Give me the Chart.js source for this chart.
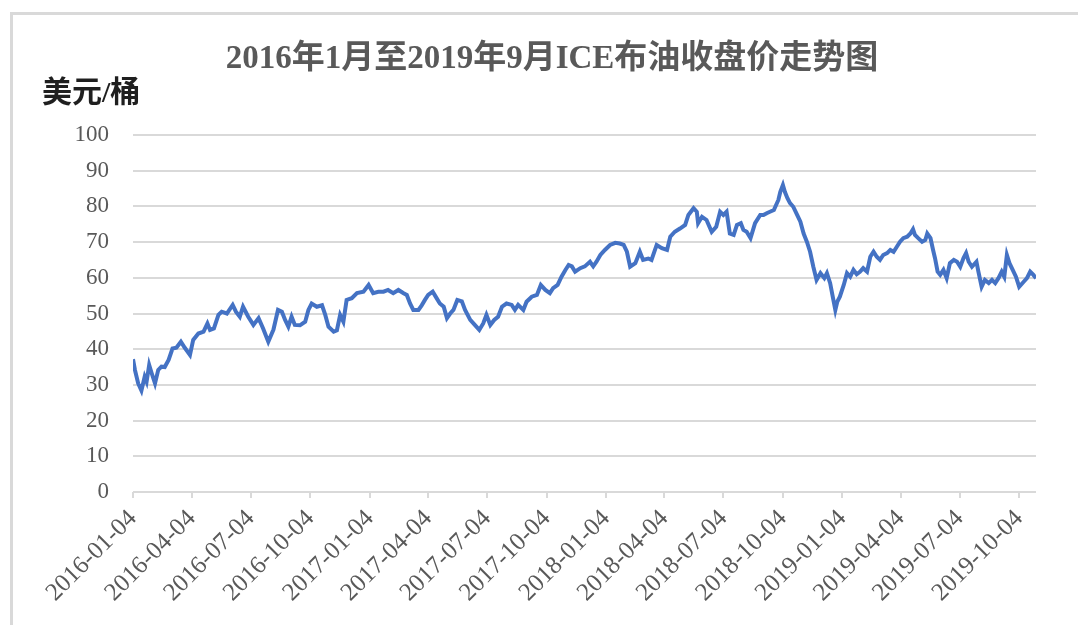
<!DOCTYPE html>
<html lang="zh">
<head>
  <meta charset="UTF-8">
  <title>ICE布油收盘价走势图</title>
  <script src="https://cdn.jsdelivr.net/npm/chart.js"></script>
  <style>
    html, body { margin: 0; padding: 0; background: #fff; }
    .frame {
      position: absolute; left: 10px; top: 12px; width: 1200px; height: 800px;
      border-left: 3px solid #d9d9d9; border-top: 3px solid #d9d9d9;
    }
    .chart-box { position: absolute; left: 0; top: 0; width: 1078px; height: 625px; }
  </style>
</head>
<body>
<div class="frame"></div>
<div class="chart-box"><canvas id="oilChart"></canvas></div>
<script>
// 数据：以 2016-01-04 为起点的天数，对应的收盘价（美元/桶）
const startDate = '2016-01-04';
const dayOffsets = [
  0, 3, 8, 13, 18, 21, 25, 29, 34, 39, 44, 49, 55, 61, 67, 74, 80, 88, 93, 101,
  109, 115, 119, 125, 132, 137, 145, 154, 159, 165, 170, 178, 186, 194, 201, 209, 217, 224, 230, 235,
  240, 245, 250, 258, 266, 271, 276, 284, 292, 297, 302, 310, 315, 320, 325, 330, 338, 346, 356, 364,
  371, 379, 387, 394, 402, 410, 418, 423, 428, 433, 441, 446, 451, 456, 463, 469, 474, 480, 485, 490,
  495, 501, 508, 513, 521, 528, 535, 541, 546, 552, 558, 564, 570, 577, 585, 590, 595, 603, 608, 616,
  624, 630, 637, 644, 649, 656, 662, 668, 673, 678, 683, 691, 698, 706, 711, 716, 722, 729, 737, 745,
  752, 758, 763, 768, 776, 783, 788, 796, 801, 809, 817, 825, 830, 837, 845, 853, 858, 866, 871, 873,
  879, 886, 894, 901, 907, 912, 917, 922, 928, 933, 939, 943, 948, 954, 961, 969, 974, 979, 984, 990,
  997, 1000, 1004, 1007, 1011, 1015, 1020, 1026, 1031, 1036, 1041, 1046, 1051, 1056, 1062, 1068, 1072, 1077, 1081, 1085,
  1088, 1092, 1098, 1103, 1108, 1113, 1118, 1123, 1128, 1134, 1139, 1144, 1149, 1154, 1159, 1165, 1170, 1175, 1180, 1185,
  1190, 1196, 1201, 1205, 1208, 1213, 1219, 1224, 1227, 1232, 1236, 1239, 1243, 1247, 1252, 1257, 1262, 1268, 1273, 1278,
  1283, 1287, 1291, 1296, 1303, 1306, 1311, 1316, 1322, 1327, 1332, 1337, 1342, 1346, 1350, 1354, 1359, 1364, 1369, 1376,
  1381, 1386, 1391, 1395
];
const prices = [
  37.2, 34.2, 30.4, 28.4, 32.3, 30.9, 35.6, 33.2, 30.4, 34.2, 35.1, 35.0, 37.0, 40.2, 40.4, 42.1, 40.4, 38.4, 42.6, 44.4,
  44.9, 47.2, 45.4, 45.8, 49.6, 50.5, 50.0, 52.4, 50.5, 49.1, 51.9, 49.1, 46.8, 48.7, 45.8, 42.1, 45.5, 51.0, 50.5, 48.2,
  46.3, 49.1, 46.8, 46.7, 47.7, 51.0, 52.8, 51.9, 52.3, 49.6, 46.3, 44.9, 45.3, 49.6, 47.7, 53.8, 54.3, 55.7, 56.1, 58.0,
  55.7, 56.1, 56.1, 56.6, 55.7, 56.6, 55.7, 55.2, 52.8, 51.0, 51.0, 52.3, 53.8, 55.2, 56.1, 54.3, 52.8, 51.9, 48.7, 50.0,
  51.0, 53.8, 53.4, 51.0, 48.2, 46.8, 45.4, 47.2, 49.6, 46.8, 48.2, 49.1, 51.9, 52.8, 52.4, 51.0, 52.4, 51.0, 53.3, 54.7,
  55.2, 58.0, 56.6, 55.7, 57.1, 58.0, 60.3, 62.2, 63.6, 63.2, 61.7, 62.7, 63.2, 64.5, 63.2, 64.5, 66.4, 67.8, 69.2, 69.8,
  69.6, 69.2, 67.3, 63.1, 64.1, 67.3, 65.0, 65.4, 65.0, 69.2, 68.3, 67.8, 71.5, 72.9, 73.8, 74.8, 77.6, 79.5, 78.5, 75.3,
  77.1, 76.2, 72.9, 74.3, 78.5, 77.6, 78.5, 72.4, 72.0, 74.8, 75.3, 73.4, 72.9, 71.1, 75.3, 77.6, 77.6, 78.1, 78.5, 79.0,
  81.8, 84.1, 86.0, 84.1, 82.3, 80.9, 79.9, 77.6, 75.7, 72.4, 70.1, 67.3, 63.1, 59.4, 61.3, 59.9, 61.3, 58.5, 54.7, 51.0,
  53.3, 54.7, 58.0, 61.3, 60.3, 62.2, 61.0, 61.7, 62.7, 61.7, 65.9, 67.3, 65.9, 65.0, 66.4, 66.9, 67.8, 67.3, 68.7, 70.1,
  71.1, 71.5, 72.4, 73.6, 72.0, 71.1, 70.1, 70.6, 72.4, 71.1, 67.8, 65.5, 61.7, 60.8, 62.2, 59.9, 64.1, 65.0, 64.5, 63.1,
  65.5, 66.9, 64.5, 63.1, 64.5, 61.7, 57.5, 59.4, 58.5, 59.4, 58.5, 59.9, 61.7, 60.3, 66.4, 64.1, 62.2, 60.3, 57.5, 58.9,
  59.9, 61.7, 60.8, 59.9
];
const tickDates = [
  '2016-01-04', '2016-04-04', '2016-07-04', '2016-10-04', '2017-01-04', '2017-04-04', '2017-07-04', '2017-10-04',
  '2018-01-04', '2018-04-04', '2018-07-04', '2018-10-04', '2019-01-04', '2019-04-04', '2019-07-04', '2019-10-04'
];
const lastDay = 1395;
const chartTitle = '2016年1月至2019年9月ICE布油收盘价走势图';
const unitText = '美元/桶';

const dayMs = 86400000;
const t0 = Date.parse(startDate);
const tickDays = tickDates.map(d => Math.round((Date.parse(d) - t0) / dayMs));

const serif = "'Liberation Serif', 'Times New Roman', 'Noto Sans CJK SC', serif";

// 标题和单位：画在固定位置（原图标题并不在画布正中）
const headerText = {
  id: 'headerText',
  afterDraw(chart) {
    const ctx = chart.ctx;
    ctx.save();
    ctx.textBaseline = 'middle';
    ctx.font = "bold 33px " + serif;
    ctx.fillStyle = '#595959';
    ctx.textAlign = 'center';
    ctx.fillText(chartTitle, 552, 59);
    ctx.font = "bold 30px " + serif;
    ctx.fillStyle = '#1f1f1f';
    ctx.textAlign = 'left';
    ctx.fillText(unitText, 42, 94);
    ctx.restore();
  }
};

new Chart(document.getElementById('oilChart'), {
  type: 'line',
  data: {
    datasets: [{
      data: dayOffsets.map((d, i) => ({ x: d, y: prices[i] })),
      borderColor: '#4472C4',
      borderWidth: 4,
      pointRadius: 0,
      tension: 0,
      fill: false
    }]
  },
  options: {
    responsive: true,
    maintainAspectRatio: false,
    animation: false,
    layout: { padding: { left: 24, right: 42, top: 135, bottom: 0 } },
    plugins: {
      legend: { display: false },
      tooltip: { enabled: false },
      title: { display: false }
    },
    scales: {
      x: {
        type: 'linear',
        min: 0,
        max: lastDay,
        afterBuildTicks: scale => { scale.ticks = tickDays.map(v => ({ value: v })); },
        afterFit: scale => { scale.height = 133; },
        ticks: {
          autoSkip: false,
          maxRotation: 45,
          minRotation: 45,
          padding: 6,
          color: '#595959',
          font: { family: serif, size: 25 },
          callback: v => {
            const i = tickDays.indexOf(v);
            return i >= 0 ? tickDates[i] : '';
          }
        },
        grid: { drawOnChartArea: false, color: '#d9d9d9', lineWidth: 2, tickLength: 6 },
        border: { display: false }
      },
      y: {
        min: 0,
        max: 100,
        afterFit: scale => { scale.width = 109; },
        ticks: {
          stepSize: 10,
          padding: 24,
          color: '#595959',
          font: { family: serif, size: 23 }
        },
        grid: { color: '#d9d9d9', lineWidth: 2, drawTicks: false },
        border: { display: false }
      }
    }
  },
  plugins: [headerText]
});
</script>
</body>
</html>
